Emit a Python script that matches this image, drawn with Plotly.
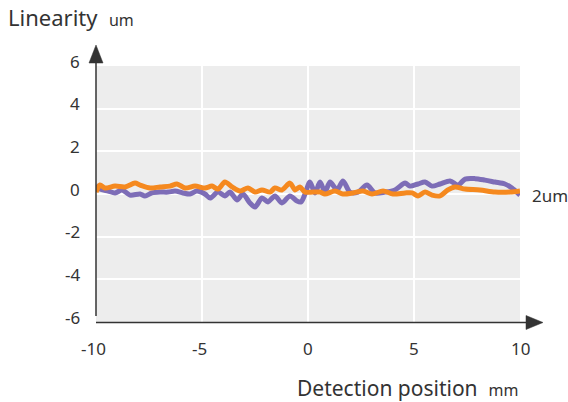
import plotly.graph_objects as go

# ---- data ----
purple_x = [-10.0, -9.81, -9.43, -9.10, -8.77, -8.40, -7.92, -7.69, -7.36, -6.98, -6.60, -6.27,
            -5.90, -5.57, -5.24, -4.86, -4.62, -4.25, -3.92, -3.68, -3.35, -3.07, -2.74, -2.50,
            -2.17, -1.89, -1.56, -1.23, -0.85, -0.52, -0.33, -0.14, 0.09, 0.33, 0.57, 0.80,
            1.04, 1.37, 1.65, 1.98, 2.36, 2.78, 3.16, 3.63, 4.10, 4.58, 4.81, 5.19, 5.52,
            5.85, 6.23, 6.70, 7.08, 7.41, 7.88, 8.35, 8.82, 9.29, 9.62, 10.0]
purple_y = [0.42, 0.23, 0.14, 0.05, 0.19, -0.05, 0.0, -0.09, 0.05, 0.09, 0.09, 0.14,
            0.05, 0.0, 0.14, 0.0, -0.19, 0.09, -0.09, 0.09, -0.28, 0.0, -0.42, -0.61,
            -0.19, -0.37, -0.09, -0.42, -0.09, -0.33, -0.37, 0.0, 0.56, 0.05, 0.56, 0.09,
            0.56, 0.19, 0.61, 0.09, 0.09, 0.42, 0.05, 0.09, 0.19, 0.51, 0.37, 0.47, 0.56,
            0.37, 0.47, 0.61, 0.42, 0.70, 0.72, 0.65, 0.56, 0.47, 0.28, -0.05]

orange_x = [-10.0, -9.81, -9.58, -9.10, -8.63, -8.16, -7.92, -7.45, -6.98, -6.51, -6.18,
            -5.80, -5.33, -4.86, -4.53, -4.25, -3.92, -3.58, -3.21, -2.83, -2.50, -2.17,
            -1.79, -1.56, -1.23, -0.85, -0.61, -0.38, -0.14, 0.24, 0.57, 0.80, 1.27, 1.65,
            2.12, 2.59, 3.02, 3.54, 4.01, 4.58, 4.91, 5.19, 5.52, 5.85, 6.23, 6.60, 6.93,
            7.41, 8.11, 8.82, 9.53, 10.0]
orange_y = [0.09, 0.42, 0.28, 0.37, 0.33, 0.51, 0.42, 0.28, 0.33, 0.37, 0.47,
            0.28, 0.37, 0.28, 0.37, 0.23, 0.56, 0.33, 0.14, 0.28, 0.09, 0.19,
            0.09, 0.28, 0.19, 0.51, 0.19, 0.33, 0.09, 0.09, 0.09, 0.0, 0.14, 0.0,
            0.05, 0.14, 0.0, 0.14, 0.0, 0.05, 0.05, -0.09, 0.09, -0.05, -0.09, 0.19, 0.33,
            0.23, 0.19, 0.09, 0.09, 0.14]

x_ticks = [-10, -5, 0, 5, 10]
x_tick_labels = ["-10", "-5", "0", "5", "10"]
y_ticks = [6, 4, 2, 0, -2, -4, -6]
y_tick_labels = ["6", "4", "2", "0", "-2", "-4", "-6"]

FONT = "Noto Sans"
TXT = "#333333"
PURPLE = "#7D6DB7"
ORANGE = "#F5891F"

fig = go.Figure()
fig.add_trace(go.Scatter(x=purple_x, y=purple_y, mode="lines",
                         line=dict(color=PURPLE, width=5, shape="spline", smoothing=0.8),
                         showlegend=False, hoverinfo="skip"))
fig.add_trace(go.Scatter(x=orange_x, y=orange_y, mode="lines",
                         line=dict(color=ORANGE, width=5, shape="spline", smoothing=0.8),
                         showlegend=False, hoverinfo="skip"))

W, H = 568, 402
L, R, T, B = 96, 48, 66, 80
PW, PH = W - L - R, H - T - B

def px(xp):
    return (xp - L) / PW

def py(yp):
    return (H - B - yp) / PH

annotations = []
for v, t in zip(y_ticks, y_tick_labels):
    annotations.append(dict(x=0, y=v, xref="paper", yref="y", text=t, showarrow=False,
                            xanchor="right", yanchor="middle", xshift=-14, yshift=5,
                            font=dict(family=FONT, size=17, color=TXT)))
for v, t in zip(x_ticks, x_tick_labels):
    annotations.append(dict(x=v, y=0, xref="x", yref="paper", text=t, showarrow=False,
                            xanchor="center", yanchor="middle", yshift=-26,
                            xshift=-3 if t.startswith("-") else 0,
                            font=dict(family=FONT, size=17, color=TXT)))

annotations += [
    dict(x=0, y=1, xref="paper", yref="paper", xanchor="left", yanchor="middle",
         xshift=6 - L, yshift=T - 17, showarrow=False,
         text="Linearity&nbsp;&nbsp;<span style='font-size:16px'>um</span>",
         font=dict(family=FONT, size=22, color=TXT)),
    dict(x=1, y=0, xref="paper", yref="paper", xanchor="right", yanchor="middle",
         xshift=0, yshift=-66, showarrow=False,
         text="Detection position&nbsp;&nbsp;<span style='font-size:16px'>mm</span>",
         font=dict(family=FONT, size=21, color=TXT)),
    dict(x=1, y=0, xref="paper", yref="y", xanchor="left", yanchor="middle",
         xshift=10, yshift=-1, showarrow=False, text="2um",
         font=dict(family=FONT, size=17, color=TXT)),
]

shapes = [
    dict(type="line", xref="paper", yref="paper", x0=0, x1=0, y0=py(316), y1=py(60),
         line=dict(color=TXT, width=1.5)),
    dict(type="path", xref="paper", yref="paper",
         path=f"M {px(96)} {py(45)} L {px(89)} {py(63)} L {px(103)} {py(63)} Z",
         fillcolor=TXT, line=dict(color=TXT, width=0.5)),
    dict(type="line", xref="paper", yref="paper", x0=0, x1=px(530), y0=py(322.5), y1=py(322.5),
         line=dict(color=TXT, width=1.5)),
    dict(type="path", xref="paper", yref="paper",
         path=f"M {px(543)} {py(322.5)} L {px(526)} {py(315.5)} L {px(526)} {py(329.5)} Z",
         fillcolor=TXT, line=dict(color=TXT, width=0.5)),
]

fig.update_layout(
    width=W, height=H,
    margin=dict(l=L, r=R, t=T, b=B),
    paper_bgcolor="white",
    plot_bgcolor="#EDEDED",
    font=dict(family=FONT, color=TXT),
    xaxis=dict(range=[-10, 10], tickvals=x_ticks, showticklabels=False, showgrid=True,
               gridcolor="white", gridwidth=1.5, zeroline=False, showline=False, fixedrange=True),
    yaxis=dict(range=[-6, 6], tickvals=y_ticks, showticklabels=False, showgrid=True,
               gridcolor="white", gridwidth=1.5, zeroline=False, showline=False, fixedrange=True),
    annotations=annotations,
    shapes=shapes,
)

fig.write_html("out.html", config={"displayModeBar": False},
               post_script="document.body.style.margin='0';")
